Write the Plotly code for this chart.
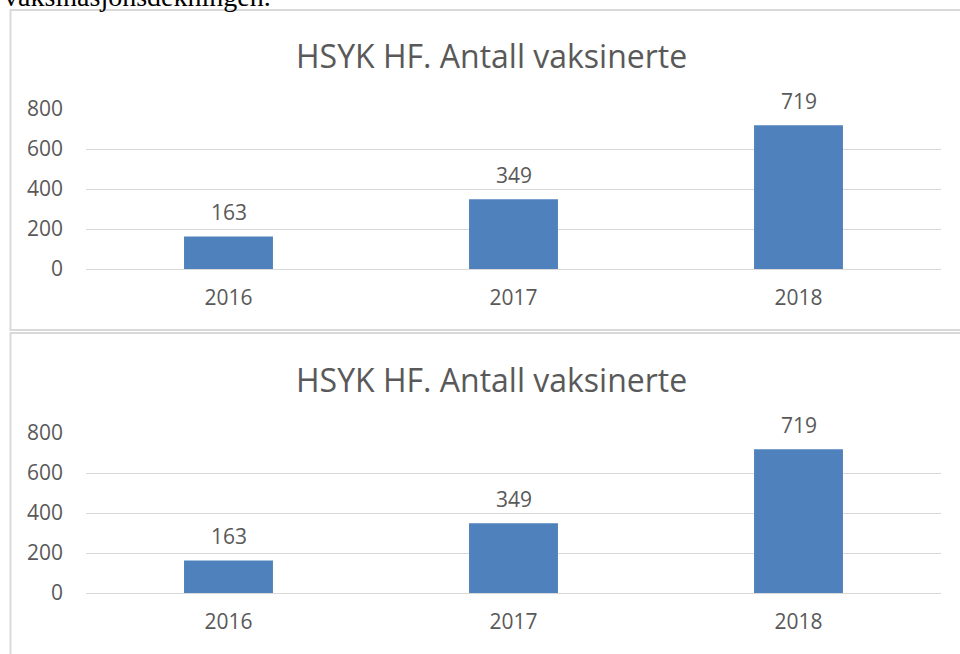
import plotly.graph_objects as go

years = ["2016", "2017", "2018"]
vaccinated = [163, 349, 719]
title_text = "HSYK HF. Antall vaksinerte"
y_ticks = [0, 200, 400, 600, 800]
doc_text = "vaksinasjonsdekningen."

W, H = 960, 654
def py(px):
    return 1 - px / H

BAR = "#4f81bd"
TXT = "#595959"
GRID = "#d9d9d9"
FONT = "Open Sans, Noto Sans, sans-serif"

fig = go.Figure()

# two identical charts stacked, offset in pixels
offsets = [0, 324]
x_dom = [86 / W, 941 / W]
for i, off in enumerate(offsets):
    xa = "x" if i == 0 else f"x{i+1}"
    ya = "y" if i == 0 else f"y{i+1}"
    fig.add_trace(go.Bar(
        x=years, y=vaccinated, marker_color=BAR, marker_line_width=0,
        xaxis=xa, yaxis=ya, showlegend=False, hoverinfo="skip",
    ))
    lay_x = "xaxis" if i == 0 else f"xaxis{i+1}"
    lay_y = "yaxis" if i == 0 else f"yaxis{i+1}"
    fig.layout[lay_x] = dict(
        type="category", automargin=False, range=[-0.5, len(years) - 0.5],
        domain=x_dom, anchor=ya, showgrid=False, showline=False, zeroline=False,
        tickfont=dict(family=FONT, size=21, color=TXT), ticks="",
        ticklabelstandoff=14,
    )
    fig.layout[lay_y] = dict(
        automargin=False,
        domain=[py(269 + off), py(109 + off)], anchor=xa, range=[0, 800],
        tickvals=y_ticks, showgrid=True, gridcolor=GRID, gridwidth=1.3,
        zeroline=True, zerolinecolor=GRID, zerolinewidth=1.3, showline=False,
        tickfont=dict(family=FONT, size=21, color=TXT), ticks="",
        ticklabelstandoff=22,
    )
    # chart title
    fig.add_annotation(
        x=491 / W, y=py(55 + off), xref="paper", yref="paper",
        text=title_text, showarrow=False, xanchor="center", yanchor="middle",
        font=dict(family=FONT, size=32, color=TXT),
    )
    # data labels
    for idx, v in enumerate(vaccinated):
        fig.add_annotation(
            x=idx, y=v, xref=xa, yref=ya, text=str(v), showarrow=False,
            xanchor="center", yanchor="bottom", yshift=8,
            font=dict(family=FONT, size=21, color=TXT),
        )
    # chart box
    top = 10 + off if i == 0 else 333
    bottom = 330 if i == 0 else 700
    fig.add_shape(type="rect", xref="paper", yref="paper",
                  x0=10.5 / W, x1=1000 / W, y0=py(bottom), y1=py(top),
                  line=dict(color=GRID, width=2), fillcolor="rgba(0,0,0,0)",
                  layer="below")

# document text cut off at top
fig.add_annotation(
    x=2 / W, y=py(14), xref="paper", yref="paper", text=doc_text,
    showarrow=False, xanchor="left", yanchor="bottom",
    font=dict(family="Liberation Serif, serif", size=28, color="#000000"),
)

fig.update_layout(
    width=W, height=H, margin=dict(l=0, r=0, t=0, b=0, autoexpand=False),
    paper_bgcolor="white", plot_bgcolor="white",
    bargap=0.688,
)

fig.write_html("out.html", config={"displayModeBar": False},
               post_script="document.body.style.margin='0';")
